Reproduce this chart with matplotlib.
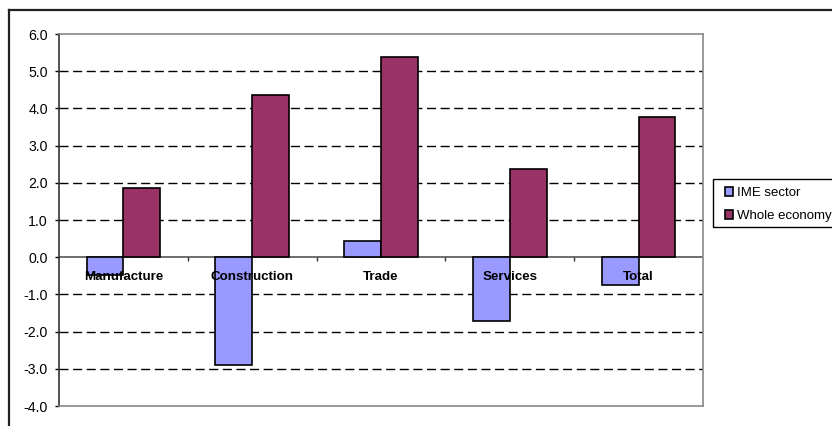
import matplotlib.pyplot as plt
import numpy as np
from matplotlib.lines import Line2D
from matplotlib.patches import Rectangle

plt.rcParams['font.family'] = ['Liberation Sans', 'DejaVu Sans']

# Growth by sector (%)
categories = ['Manufacture', 'Construction', 'Trade', 'Services', 'Total']
ime_sector = [-0.48, -2.90, 0.44, -1.71, -0.75]
whole_economy = [1.87, 4.35, 5.39, 2.37, 3.78]
series_names = ['IME sector', 'Whole economy']
y_ticks = np.arange(-4, 7, 1)

W, H = 832, 426
fig = plt.figure(figsize=(W / 100, H / 100), dpi=100)

# outer chart border (runs off the right and bottom edges)
fig.add_artist(Line2D([9 / W, 9 / W], [0, 1 - 10 / H], color='#222222', lw=1.6,
                      transform=fig.transFigure))
fig.add_artist(Line2D([9 / W, 1], [1 - 10 / H, 1 - 10 / H], color='#222222', lw=1.6,
                      transform=fig.transFigure))

ax = fig.add_axes([59 / W, 20 / H, 644 / W, 372 / H])

x = np.arange(len(categories))
bw = 1 / 3.5
ax.bar(x - bw / 2, ime_sector, bw, color='#9999FF', edgecolor='black', lw=1.2,
       label=series_names[0], zorder=3)
ax.bar(x + bw / 2, whole_economy, bw, color='#993366', edgecolor='black', lw=1.2,
       label=series_names[1], zorder=3)

ax.set_xlim(-0.5, len(categories) - 0.5)
ax.set_ylim(-4, 6)

# dashed gridlines between the border lines
for y in y_ticks[1:-1]:
    if y == 0:
        continue
    ax.axhline(y, color='black', lw=1.0, dashes=(6.5, 3.3), zorder=1)

# category axis at zero with tick marks between categories
ax.axhline(0, color='#555555', lw=1.2, zorder=2)
bounds = np.arange(len(categories) + 1) - 0.5
ax.vlines(bounds[1:], -0.1, 0, color='#333333', lw=1.0, zorder=2)

for xi, name in zip(x, categories):
    ax.annotate(name, (xi, 0), xytext=(0, -14.5), textcoords='offset points',
                ha='center', va='center', fontsize=9.6, fontweight='bold', zorder=5)

ax.set_xticks([])
ax.set_yticks(y_ticks)
ax.set_yticklabels([f'{v:.1f}' for v in y_ticks], fontsize=10.2)
ax.tick_params(axis='y', direction='out', length=3, width=1, pad=5, colors='black')

for side in ['top', 'right', 'bottom']:
    ax.spines[side].set_color('#888888')
    ax.spines[side].set_linewidth(1.2)
ax.spines['left'].set_color('#333333')
ax.spines['left'].set_linewidth(1.2)

# legend box
fig.add_artist(Rectangle((713 / W, 1 - 227 / H), 150 / W, 48 / H, transform=fig.transFigure,
                         fill=False, edgecolor='black', lw=1.0))
fig.legend(loc='upper left', bbox_to_anchor=(725 / W, 1 - 187 / H), frameon=False,
           fontsize=9.5, handlelength=0.62, handleheight=0.62, handletextpad=0.3,
           labelspacing=0.86, borderpad=0, borderaxespad=0)

fig.savefig('out.png', dpi=100)
